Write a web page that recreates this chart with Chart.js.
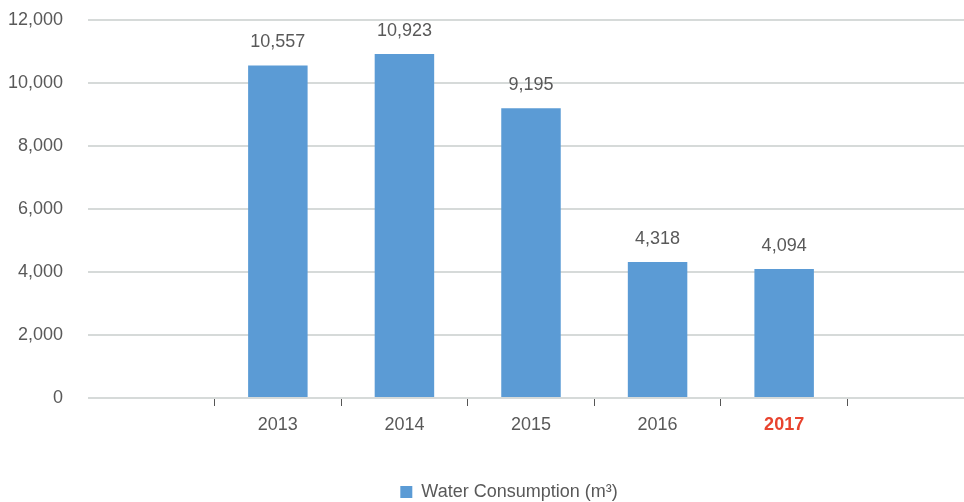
<!DOCTYPE html>
<html lang="en">
<head>
    <meta charset="UTF-8">
    <title>Water Consumption</title>
    <script src="https://cdn.jsdelivr.net/npm/chart.js"></script>
    <style>
        html, body {
            margin: 0;
            padding: 0;
            background: #fff;
            overflow: hidden;
        }
        .chart-container {
            width: 1000px;
            height: 502px;
        }
    </style>
</head>
<body>
    <div class="chart-container">
        <canvas id="waterChart"></canvas>
    </div>
    <script>
        // empty slots on both ends keep the bars away from the axis edges
        const years = ['', '2013', '2014', '2015', '2016', '2017', ''];
        const consumption = [null, 10557, 10923, 9195, 4318, 4094, null];
        const yTicks = [0, 2000, 4000, 6000, 8000, 10000, 12000];
        const currentYear = '2017';

        const FONT = 'Liberation Sans, Arial, sans-serif';
        const TEXT = '#595959';

        // value labels above each bar
        const barValues = {
            id: 'barValues',
            afterDatasetsDraw(chart) {
                const ctx = chart.ctx;
                const meta = chart.getDatasetMeta(0);
                ctx.save();
                ctx.font = '18px ' + FONT;
                ctx.fillStyle = TEXT;
                ctx.textAlign = 'center';
                ctx.textBaseline = 'middle';
                meta.data.forEach((bar, i) => {
                    const v = consumption[i];
                    if (v == null) return;
                    ctx.fillText(v.toLocaleString('en-US'), bar.x, bar.y - 23);
                });
                ctx.restore();
            }
        };

        // move the legend a little right of centre and into the bottom gap
        const legendShift = {
            id: 'legendShift',
            afterLayout(chart) {
                const lg = chart.legend;
                if (!lg) return;
                lg.left += 22;
                lg.right += 22;
                lg.top += 9;
                lg.bottom += 9;
            }
        };

        const ctxWater = document.getElementById('waterChart').getContext('2d');
        const waterChart = new Chart(ctxWater, {
            type: 'bar',
            data: {
                labels: years,
                datasets: [{
                    label: 'Water Consumption (m\u00B3)',
                    data: consumption,
                    backgroundColor: '#5b9bd5',
                    borderWidth: 0,
                    categoryPercentage: 1,
                    barPercentage: 0.47
                }]
            },
            options: {
                responsive: true,
                maintainAspectRatio: false,
                animation: false,
                layout: {
                    padding: { top: 20, left: 0, right: 26, bottom: 0 }
                },
                plugins: {
                    tooltip: { enabled: false },
                    legend: {
                        position: 'bottom',
                        labels: {
                            boxWidth: 12,
                            boxHeight: 12,
                            color: TEXT,
                            padding: 1,
                            font: { family: FONT, size: 18 }
                        }
                    }
                },
                scales: {
                    x: {
                        offset: true,
                        border: { display: false },
                        grid: {
                            drawOnChartArea: false,
                            drawTicks: true,
                            tickLength: 8,
                            offset: true,
                            tickColor: (c) => c.index === 0 ? 'rgba(0,0,0,0)' : '#555',
                            tickWidth: 1
                        },
                        ticks: {
                            padding: 8,
                            color: (c) => years[c.index] === currentYear ? '#e8432e' : TEXT,
                            font: (c) => ({
                                family: FONT,
                                size: 18,
                                weight: years[c.index] === currentYear ? 'bold' : 'normal'
                            })
                        },
                        afterFit(scale) {
                            scale.height = 75;
                        }
                    },
                    y: {
                        min: yTicks[0],
                        max: yTicks[yTicks.length - 1],
                        border: { display: false },
                        grid: {
                            color: '#d6dad9',
                            lineWidth: 2,
                            drawTicks: false
                        },
                        afterBuildTicks(scale) {
                            scale.ticks = yTicks.map(v => ({ value: v }));
                        },
                        ticks: {
                            padding: 25,
                            color: TEXT,
                            font: { family: FONT, size: 18 },
                            callback: (v) => v.toLocaleString('en-US')
                        },
                        afterFit(scale) {
                            scale.width = 88;
                            scale.paddingTop = 0;
                            scale.paddingBottom = 0;
                        }
                    }
                }
            },
            plugins: [barValues, legendShift]
        });
    </script>
</body>
</html>
